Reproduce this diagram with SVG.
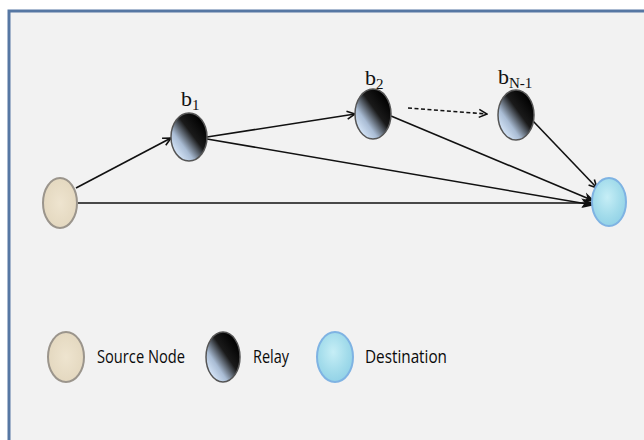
<svg xmlns="http://www.w3.org/2000/svg" width="644" height="440" viewBox="0 0 644 440">
<defs>
<linearGradient id="relayG" x1="0.15" y1="0.85" x2="0.85" y2="0.15">
<stop offset="0" stop-color="#d4e4f7"/>
<stop offset="0.25" stop-color="#a9bcd4"/>
<stop offset="0.6" stop-color="#1a1a1a"/>
<stop offset="1" stop-color="#000"/>
</linearGradient>
<radialGradient id="srcG" cx="0.5" cy="0.5" r="0.6">
<stop offset="0" stop-color="#eee4cf"/>
<stop offset="1" stop-color="#e2d6bd"/>
</radialGradient>
<radialGradient id="dstG" cx="0.45" cy="0.4" r="0.65">
<stop offset="0" stop-color="#c6eef6"/>
<stop offset="0.6" stop-color="#a3dceb"/>
<stop offset="1" stop-color="#8fd0e6"/>
</radialGradient>
<marker id="arr" viewBox="0 0 10 10" refX="9" refY="5" markerWidth="10" markerHeight="10" markerUnits="userSpaceOnUse" orient="auto">
<path d="M1,1 L9,5 L1,9" fill="none" stroke="#111" stroke-width="1.6"/>
</marker>
<marker id="arrF" viewBox="0 0 10 10" refX="9" refY="5" markerWidth="12" markerHeight="12" markerUnits="userSpaceOnUse" orient="auto">
<path d="M0,1 L10,5 L0,9 L3,5 Z" fill="#111"/>
</marker>
</defs>
<style>
.src{fill:url(#srcG);stroke:#9b958c;stroke-width:2}
.rel{fill:url(#relayG);stroke:#555;stroke-width:1.5}
.dst{fill:url(#dstG);stroke:#7fb3e3;stroke-width:2}
.e{fill:none;stroke:#111;stroke-width:1.6}
.lbl{font-family:"Liberation Serif",serif;font-size:22px;fill:#111}
.leg{font-family:"Open Sans","Liberation Sans",sans-serif;font-size:19px;fill:#0a0a0a}
</style>
<rect x="0" y="0" width="644" height="440" fill="#fff"/>
<rect x="9" y="11" width="640" height="440" fill="#f2f2f2" stroke="#5677a3" stroke-width="3"/>
<g id="connectors">
<line class="e" x1="76" y1="188" x2="171" y2="138" marker-end="url(#arr)"/>
<line class="e" x1="207" y1="137" x2="355" y2="114" marker-end="url(#arr)"/>
<line class="e" x1="207" y1="139" x2="593" y2="205" marker-end="url(#arrF)"/>
<line class="e" x1="391" y1="116" x2="594" y2="201" marker-end="url(#arrF)"/>
<line class="e" x1="533" y1="121" x2="597" y2="188" marker-end="url(#arr)"/>
<line class="e" x1="78" y1="203" x2="592" y2="203" stroke-width="2.4" marker-end="url(#arrF)"/>
<line class="e" x1="408" y1="108" x2="487" y2="114" stroke-dasharray="4,2.5" marker-end="url(#arr)"/>
</g>
<g id="source"><ellipse class="src" cx="60" cy="203" rx="17" ry="25"/></g>
<g id="b1"><ellipse class="rel" cx="189" cy="137" rx="18" ry="24"/>
<text class="lbl" x="181" y="106">b<tspan font-size="15" dy="4">1</tspan></text></g>
<g id="b2"><ellipse class="rel" cx="373" cy="114" rx="18" ry="25"/>
<text class="lbl" x="365" y="85">b<tspan font-size="15" dy="4">2</tspan></text></g>
<g id="bN1"><ellipse class="rel" cx="516" cy="115" rx="18" ry="25"/>
<text class="lbl" x="498" y="84">b<tspan font-size="15" dy="4">N-1</tspan></text></g>
<g id="destination"><ellipse class="dst" cx="609" cy="202" rx="17" ry="24"/></g>
<g id="legend">
<ellipse class="src" cx="66" cy="357" rx="18" ry="25"/>
<text class="leg" x="97" y="363" textLength="88" lengthAdjust="spacingAndGlyphs">Source Node</text>
<ellipse class="rel" cx="223" cy="357" rx="17" ry="25"/>
<text class="leg" x="253" y="363" textLength="36" lengthAdjust="spacingAndGlyphs">Relay</text>
<ellipse class="dst" cx="335" cy="357" rx="18" ry="25"/>
<text class="leg" x="365" y="363" textLength="82" lengthAdjust="spacingAndGlyphs">Destination</text>
</g>
</svg>
